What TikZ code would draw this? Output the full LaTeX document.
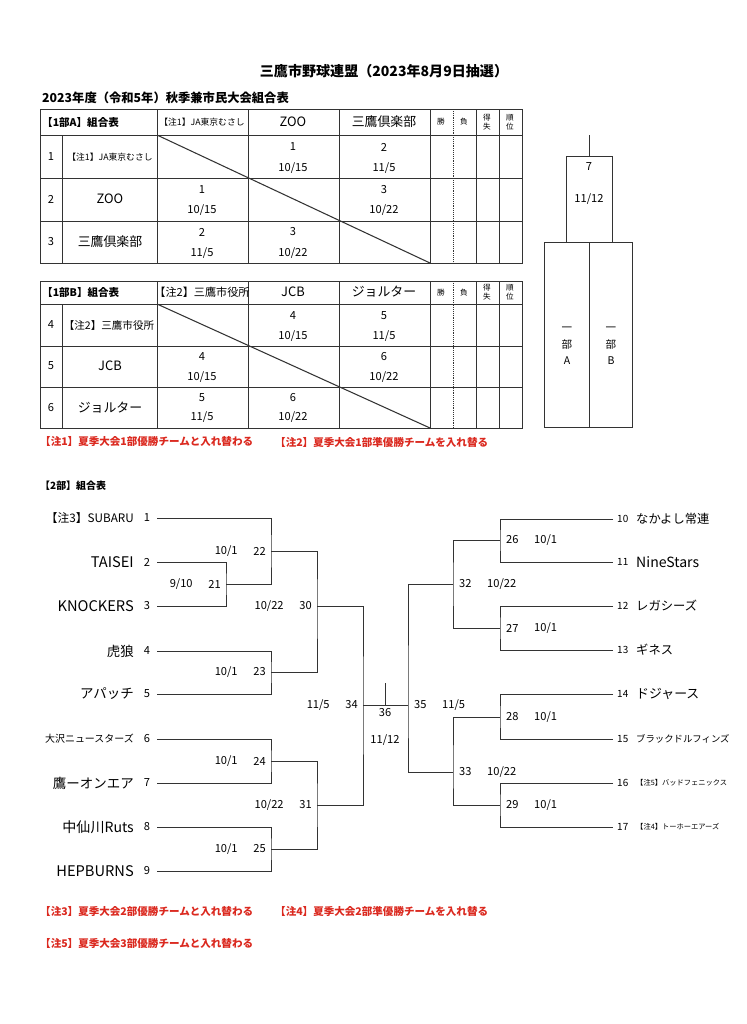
\documentclass[tikz,border=0pt]{standalone}
\usepackage{fontspec}
\setmainfont{Noto Sans CJK JP}
\usetikzlibrary{positioning}
\definecolor{NoteClr}{rgb}{0.86,0.16,0.12}
\definecolor{LineClr}{rgb}{0.2,0.2,0.2}

\begin{document}
\begin{tikzpicture}[x=0.03cm,y=-0.03cm,
  rule/.style={line width=0.6pt,draw=LineClr},
  bline/.style={line width=0.8pt,draw=LineClr},
  txt/.style={inner sep=0pt,text=black},
  cell/.style={txt,font=\fontsize{9.5}{11}\selectfont},
  head/.style={txt,font=\fontsize{11}{12}\selectfont},
  small/.style={txt,font=\fontsize{7.5}{9}\selectfont},
  tiny/.style={txt,font=\fontsize{6.5}{7.5}\selectfont,align=center},
  mno/.style={txt,font=\fontsize{9.5}{11}\selectfont},
  note/.style={txt,anchor=west,text=NoteClr,font=\bfseries\fontsize{9}{10}\selectfont},
]
\fill[white] (0,0) rectangle (746,1024);
\useasboundingbox (0,0) rectangle (746,1024);

% titles
\node[txt,font=\bfseries\fontsize{12}{13}\selectfont] (title) at (384,71) {三鷹市野球連盟（2023年8月9日抽選）};
\node[txt,anchor=west,font=\bfseries\fontsize{10.5}{12}\selectfont] (subtitle) at (42,98) {2023年度（令和5年）秋季兼市民大会組合表};

% league tables (grid)
\foreach \tp/\hb/\ra/\rb/\bt in {109/135/178/221/263,281/304/346/387/428}{
  \draw[rule] (40,\tp) rectangle (522,\bt);
  \foreach \y in {\hb,\ra,\rb} \draw[rule] (40,\y) -- (522,\y);
  \draw[rule] (62,\hb) -- (62,\bt);
  \foreach \x in {157,248,339,430,476,499} \draw[rule] (\x,\tp) -- (\x,\bt);
  \draw[rule,densely dotted] (453,\tp) -- (453,\bt);
  \draw[rule,line width=0.9pt] (157,\hb) -- (430,\bt);
  \node[tiny] (win\tp) at (441,{(\tp+\hb)/2}) {勝};
  \node[tiny] (loss\tp) at (464,{(\tp+\hb)/2}) {負};
  \node[tiny] (diff\tp) at (487,{(\tp+\hb)/2}) {得\\失};
  \node[tiny] (rank\tp) at (510,{(\tp+\hb)/2}) {順\\位};
}

% table A
\node[txt,anchor=west,font=\bfseries\fontsize{9}{10}\selectfont] (hA) at (42,122) {【1部A】組合表};
\node[small] (hA1) at (202,122) {【注1】JA東京むさし};
\node[head] (hA2) at (293,122) {ZOO};
\node[head] (hA3) at (384,122) {三鷹倶楽部};
\node[cell] (nA1) at (51,157) {1};
\node[cell] (nA2) at (51,199) {2};
\node[cell] (nA3) at (51,242) {3};
\node[small] (tA1) at (110,157) {【注1】JA東京むさし};
\node[head] (tA2) at (110,199) {ZOO};
\node[head] (tA3) at (110,242) {三鷹倶楽部};
\foreach \x/\ya/\yb/\g/\d in {293/147/168/1/10\slash 15,384/147/168/2/11\slash 5,
    202/190/210/1/10\slash 15,384/190/210/3/10\slash 22,
    202/232/253/2/11\slash 5,293/232/253/3/10\slash 22}{
  \node[cell] (gA\x\ya) at (\x,\ya) {\g};
  \node[cell] (dA\x\ya) at (\x,\yb) {\d};
}

% table B
\node[txt,anchor=west,font=\bfseries\fontsize{9}{10}\selectfont] (hB) at (42,292) {【1部B】組合表};
\node[txt,font=\fontsize{9.5}{11}\selectfont] (hB1) at (202,292) {【注2】三鷹市役所};
\node[head] (hB2) at (293,292) {JCB};
\node[head] (hB3) at (384,292) {ジョルター};
\node[cell] (nB4) at (51,325) {4};
\node[cell] (nB5) at (51,366) {5};
\node[cell] (nB6) at (51,408) {6};
\node[txt,font=\fontsize{9}{11}\selectfont] (tB4) at (109,325) {【注2】三鷹市役所};
\node[head] (tB5) at (110,366) {JCB};
\node[head] (tB6) at (110,408) {ジョルター};
\foreach \x/\ya/\yb/\g/\d in {293/316/336/4/10\slash 15,384/316/336/5/11\slash 5,
    202/357/377/4/10\slash 15,384/357/377/6/10\slash 22,
    202/398/417/5/11\slash 5,293/398/417/6/10\slash 22}{
  \node[cell] (gB\x\ya) at (\x,\ya) {\g};
  \node[cell] (dB\x\ya) at (\x,\yb) {\d};
}

% first division final
\coordinate (fTop) at (589,135);
\coordinate (f7) at (589,156);
\draw[rule] (fTop) -- (f7);
\draw[rule] (566,156) rectangle (612,242);
\draw[rule] (544,242) rectangle (632,427);
\draw[rule] (589,242) -- (589,427);
\node[cell] (g7) at (589,167) {7};
\node[cell] (d7) at (589,199) {11/12};
\node[txt,align=center,font=\fontsize{9}{14}\selectfont] (bA) at (567,346) {一\\部\\A};
\node[txt,align=center,font=\fontsize{9}{14}\selectfont] (bB) at (611,346) {一\\部\\B};

\node[note] (note1) at (40,442) {【注1】夏季大会1部優勝チームと入れ替わる};
\node[note] (note2) at (275,442) {【注2】夏季大会1部準優勝チームを入れ替る};

% second division bracket
\node[txt,anchor=west,font=\bfseries\fontsize{8.5}{10}\selectfont] (h2) at (40,486) {【2部】組合表};

\foreach \i/\y/\nm/\fs in {1/518/{【注3】SUBARU}/10,2/562/TAISEI/12.5,3/606/KNOCKERS/12.5,
    4/651/虎狼/11.5,5/694/アパッチ/11.5,6/739/大沢ニュースターズ/8.5,
    7/783/鷹ーオンエア/11.5,8/827/中仙川Ruts/12,9/871/HEPBURNS/12.5}{
  \coordinate (t\i) at (157,\y);
  \node[txt,anchor=east,font=\fontsize{\fs}{\fs}\selectfont] (name\i) at (134,\y) {\nm};
  \node[mno] (no\i) at (147,\y) {\i};
}
\foreach \i/\y/\nm/\fs in {10/519/なかよし常連/10.5,11/562/NineStars/12,12/606/レガシーズ/10.5,
    13/650/ギネス/10.5,14/694/ドジャース/11,15/739/ブラックドルフィンズ/8,
    16/783/{【注5】バッドフェニックス}/6.2,17/827/{【注4】トーホーエアーズ}/6.2}{
  \coordinate (t\i) at (613,\y);
  \node[txt,anchor=west,font=\fontsize{8.5}{9}\selectfont] (no\i) at (617,\y) {\i};
  \node[txt,anchor=west,font=\fontsize{\fs}{\fs}\selectfont] (name\i) at (636,\y) {\nm};
}

\coordinate (j21) at (226,584);
\coordinate (j22) at (271,551);
\coordinate (j23) at (271,672);
\coordinate (j24) at (271,761);
\coordinate (j25) at (271,849);
\coordinate (j30) at (317,606);
\coordinate (j31) at (317,805);
\coordinate (j34) at (363,705);
\coordinate (j36) at (385,705);
\coordinate (j36top) at (385,683);
\coordinate (j35) at (408,705);
\coordinate (j32) at (453,584);
\coordinate (j33) at (453,772);
\coordinate (j26) at (500,540);
\coordinate (j27) at (500,628);
\coordinate (j28) at (500,717);
\coordinate (j29) at (500,805);

\draw[bline] (t2) -| (j21) |- (t3);
\draw[bline] (t1) -| (j22) |- (j21);
\draw[bline] (t4) -| (j23) |- (t5);
\draw[bline] (t6) -| (j24) |- (t7);
\draw[bline] (t8) -| (j25) |- (t9);
\draw[bline] (j22) -| (j30) |- (j23);
\draw[bline] (j24) -| (j31) |- (j25);
\draw[bline] (j30) -| (j34) |- (j31);
\draw[bline] (j34) -- (j35);
\draw[bline] (j36top) -- (j36);
\draw[bline] (j32) -| (j35) |- (j33);
\draw[bline] (j26) -| (j32) |- (j27);
\draw[bline] (j28) -| (j33) |- (j29);
\draw[bline] (t10) -| (j26) |- (t11);
\draw[bline] (t12) -| (j27) |- (t13);
\draw[bline] (t14) -| (j28) |- (t15);
\draw[bline] (t16) -| (j29) |- (t17);

% match numbers and dates
\foreach \m/\d in {21/9\slash 10,22/10\slash 1,23/10\slash 1,24/10\slash 1,25/10\slash 1,
    30/10\slash 22,31/10\slash 22,34/11\slash 5}{
  \node[mno,left=4.3pt of j\m] (m\m) {\m};
  \node[mno,left=13pt of m\m] (md\m) {\d};
}
\foreach \m/\d in {35/11\slash 5,32/10\slash 22,33/10\slash 22,26/10\slash 1,27/10\slash 1,
    28/10\slash 1,29/10\slash 1}{
  \node[mno,right=5pt of j\m] (m\m) {\m};
  \node[mno,right=13pt of m\m] (md\m) {\d};
}
\node[mno,below=3pt of j36] (m36) {36};
\node[mno,below=15pt of m36] (md36) {11/12};

\node[note] (note3) at (40,911) {【注3】夏季大会2部優勝チームと入れ替わる};
\node[note] (note4) at (275,911) {【注4】夏季大会2部準優勝チームを入れ替る};
\node[note] (note5) at (40,943) {【注5】夏季大会3部優勝チームと入れ替わる};

\end{tikzpicture}
\end{document}
